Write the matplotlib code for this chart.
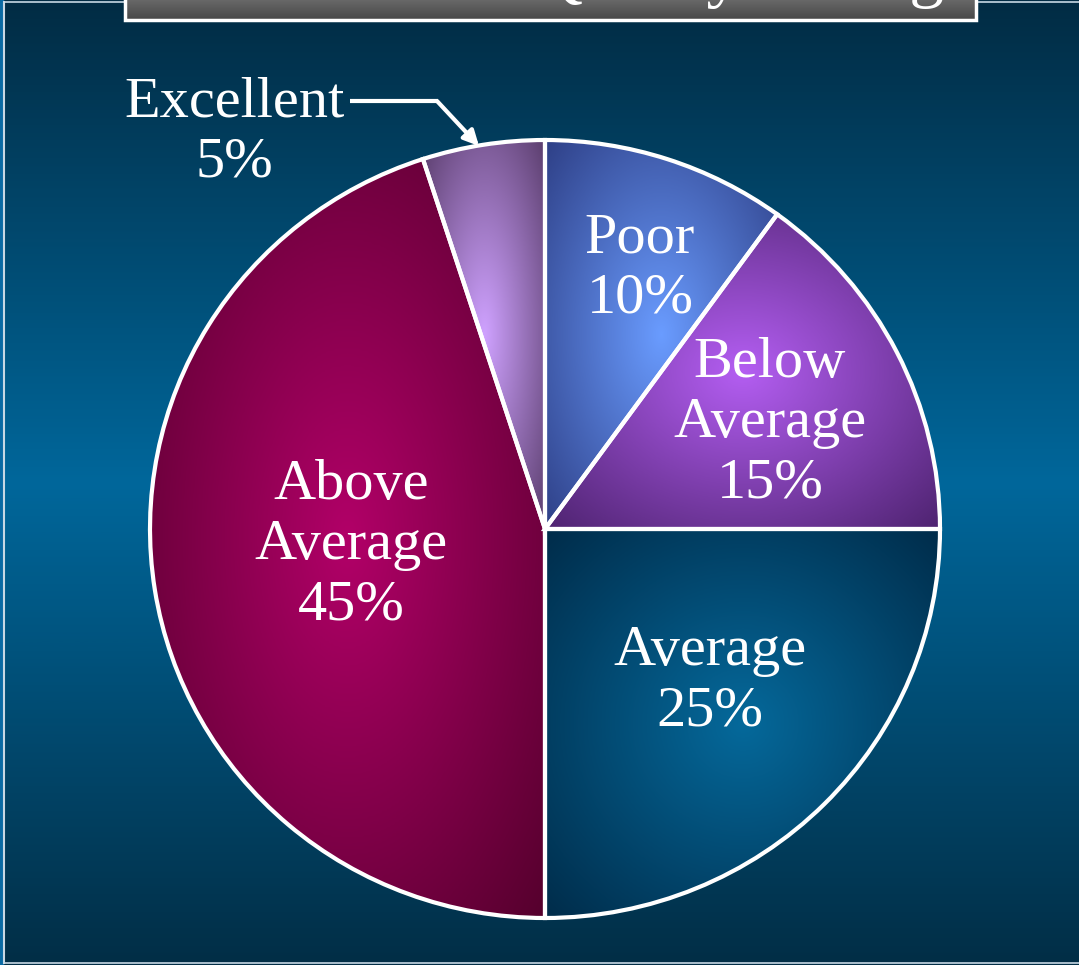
import numpy as np
import matplotlib.pyplot as plt
from matplotlib.colors import LinearSegmentedColormap
from matplotlib.patches import Rectangle

# Ratings share
categorias = ['Poor', 'Below\nAverage', 'Average', 'Above\nAverage', 'Excellent']
porcentajes = [10, 15, 25, 45, 5]

# gradient colours per slice: (centre, edge)
colores_centro = ['#6a9cff', '#b45ef2', '#05699b', '#b20068', '#cfa2ff']
colores_borde = ['#2e3f86', '#4e2370', '#002c4a', '#55002d', '#5a3d6c']

titulo = 'Overall Quality Rating'

W, H = 1079, 965
K = 395 / 389  # the slide is slightly stretched horizontally


def py(y):
    """pixel row (from top) -> data y"""
    return (H - y) * K


fig = plt.figure(figsize=(W / 100, H / 100), dpi=100)
ax = fig.add_axes([0, 0, 1, 1])

# pastel
centro = (545, py(529))
radio = 395
wedges, _ = ax.pie(porcentajes, startangle=90, counterclock=False,
                   center=centro, radius=radio, frame=True,
                   wedgeprops=dict(edgecolor='white', linewidth=3, facecolor='none'))
ax.set_aspect('auto')
ax.set_xlim(0, W)
ax.set_ylim(0, H * K)
ax.axis('off')

# fondo con degradado vertical
yy = np.linspace(0, 1, 400)
fondo_cmap = LinearSegmentedColormap.from_list(
    'fondo', [(0, '#022c44'), (0.5, '#00679b'), (1, '#022e46')])
ax.imshow(yy[:, None], cmap=fondo_cmap, aspect='auto',
          extent=[0, W, 0, H * K], zorder=0, origin='upper')

# marco claro del lado izquierdo
ax.add_patch(Rectangle((0, 0), 3, H * K, color='#0a6aa3', zorder=1))
ax.plot([4, 4], [py(H - 2), py(2)], color='#c8d8e4', lw=1.5, zorder=1)
ax.plot([4, W], [py(1.5), py(1.5)], color='#c8d8e4', lw=1.2, zorder=1)
ax.plot([4, W], [py(H - 2), py(H - 2)], color='#c8d8e4', lw=1.2, zorder=1)

# caja del titulo (gris con degradado)
caja_x0, caja_x1 = 125, 976
grad = np.linspace(0, 1, 100)[:, None]
titulo_cmap = LinearSegmentedColormap.from_list('tit', ['#727272', '#474747'])
ax.imshow(grad, cmap=titulo_cmap, aspect='auto', origin='upper',
          extent=[caja_x0, caja_x1, py(20), py(-5)], zorder=2)
ax.plot([caja_x0, caja_x0, caja_x1, caja_x1], [py(-5), py(20), py(20), py(-5)],
        color='white', lw=2.5, zorder=3, solid_joinstyle='miter')
ax.text(944, py(-6), titulo, ha='right', va='baseline', color='white',
        fontsize=50, family='Liberation Serif', zorder=4, clip_on=False)

for w, c0, c1 in zip(wedges, colores_centro, colores_borde):
    w.set_zorder(6)
    ext = w.get_path().get_extents()
    cx, cy = (ext.x0 + ext.x1) / 2, (ext.y0 + ext.y1) / 2
    hw, hh = ext.width / 2, ext.height / 2
    xs = np.linspace(ext.x0, ext.x1, 300)
    ys = np.linspace(ext.y0, ext.y1, 300)
    X, Y = np.meshgrid(xs, ys)
    d = np.sqrt(((X - cx) / hw) ** 2 + ((Y - cy) / hh) ** 2) / np.sqrt(2)
    cmap = LinearSegmentedColormap.from_list('w', [c0, c1])
    im = ax.imshow(np.clip(d, 0, 1), cmap=cmap, vmin=0, vmax=1, origin='lower',
                   extent=[ext.x0, ext.x1, ext.y0, ext.y1], zorder=5,
                   interpolation='bilinear', aspect='auto')
    im.set_clip_path(w)

ax.set_xlim(0, W)
ax.set_ylim(0, H * K)

# etiquetas dentro de las porciones
etiqueta_xy = [(640, 268), (770, 423), (710, 681), (351, 545)]
fuente = dict(color='white', fontsize=42, family='Liberation Serif',
              ha='center', va='center', linespacing=1.2, zorder=8)
for (x, y), cat, p in zip(etiqueta_xy, categorias[:4], porcentajes[:4]):
    ax.text(x, py(y), f'{cat}\n{p}%', **fuente)

# Excellent fuera del pastel con flecha
ax.text(234, py(132), f'{categorias[4]}\n{porcentajes[4]}%', **fuente)
ax.plot([350, 438], [py(101), py(101)], color='white', lw=3, zorder=8,
        solid_capstyle='butt')
ax.annotate('', xy=(479, py(146)), xytext=(437, py(101)),
            arrowprops=dict(arrowstyle='-|>,head_length=0.9,head_width=0.45',
                            color='white', lw=3, shrinkA=0, shrinkB=0),
            zorder=8)

fig.savefig('out.png', dpi=100)
